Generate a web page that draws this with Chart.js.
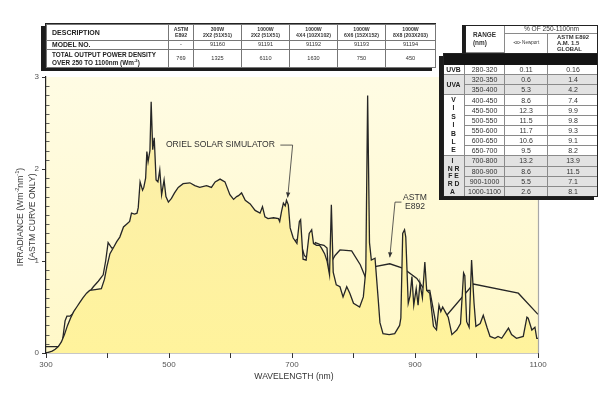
<!DOCTYPE html>
<html><head><meta charset="utf-8">
<script src="https://cdn.jsdelivr.net/npm/chart.js@4.4.0/dist/chart.umd.min.js"></script>
<style>
html,body{margin:0;padding:0;background:#fff;}
#wrap{position:relative;width:600px;height:394px;overflow:hidden;font-family:"Liberation Sans",Arial,Helvetica,sans-serif;color:#222;}
#c{position:absolute;left:0;top:0;}
.box{position:absolute;background:#fff;box-shadow:-4px 3px 0 #1c1c1c;}
table{border-collapse:collapse;table-layout:fixed;width:100%;height:100%;}
td{padding:0;text-align:center;vertical-align:middle;line-height:1.05;border:0.6px solid #777;overflow:hidden;white-space:nowrap;}
#t1{left:45px;top:23px;width:389px;height:43px;border:1px solid #222;}
#t1 td.l{text-align:left;padding-left:5px;font-weight:bold;}
#t1 .h{font-size:5.2px;font-weight:bold;color:#333;}
#t1 .v{font-size:5.6px;color:#333;}
.cell{position:absolute;box-sizing:border-box;border-right:0.7px solid #8a8a8a;border-bottom:0.7px solid #8a8a8a;display:flex;align-items:center;justify-content:center;flex-direction:column;font-size:7px;color:#333;white-space:nowrap;line-height:1;overflow:visible;}
.frame{position:absolute;left:0;top:0;right:0;bottom:0;box-sizing:border-box;border:1px solid #222;pointer-events:none;}
.ttl{position:absolute;font-size:8.6px;color:#333;white-space:nowrap;}
sup{font-size:65%;line-height:0;vertical-align:super;}
</style></head><body>
<div id="wrap">
<canvas id="c" width="600" height="394"></canvas>

<div class="box" id="t1"><table>
<colgroup><col style="width:122px"><col style="width:25px"><col style="width:48px"><col style="width:48px"><col style="width:48px"><col style="width:48px"><col style="width:50px"></colgroup>
<tr style="height:16px"><td class="l" style="font-size:7px">DESCRIPTION</td><td class="h">ASTM<br>E892</td><td class="h">300W<br>2X2 (51X51)</td><td class="h">1000W<br>2X2 (51X51)</td><td class="h">1000W<br>4X4 (102X102)</td><td class="h">1000W<br>6X6 (152X152)</td><td class="h">1000W<br>8X8 (203X203)</td></tr>
<tr style="height:9px"><td class="l" style="font-size:6.8px">MODEL NO.</td><td class="v">-</td><td class="v">91160</td><td class="v">91191</td><td class="v">91192</td><td class="v">91193</td><td class="v">91194</td></tr>
<tr style="height:18px"><td class="l" style="font-size:6.4px;line-height:1.25">TOTAL OUTPUT POWER DENSITY<br>OVER 250 TO 1100nm (Wm<sup>-2</sup>)</td><td class="v">769</td><td class="v">1325</td><td class="v">6110</td><td class="v">1630</td><td class="v">750</td><td class="v">450</td></tr>
</table></div>

<div class="box" id="t2h" style="left:465px;top:25px;width:133px;height:28px;box-shadow:-3px 0 0 #1c1c1c;"></div>
<div class="box" id="t2" style="left:443px;top:53px;width:155px;height:144px;"></div>

<div class="ttl" style="left:20px;top:217px;transform:translate(-50%,-50%) rotate(-90deg);">IRRADIANCE (Wm<sup>-2</sup>nm<sup>-1</sup>)</div>
<div class="ttl" style="left:32px;top:217px;transform:translate(-50%,-50%) rotate(-90deg);">(ASTM CURVE ONLY)</div>
<div class="ttl" style="left:294px;top:376px;transform:translate(-50%,-50%);">WAVELENGTH (nm)</div>
</div>

<script>
// ---- data ----
const orielWl = [300,305,310,315,320,325,330,335,340,345,350,355,360,366,371,380,390,395,399,404,410,415,420,426,431,436,439,444,448,450,453,457,459,462,464,466,469,471,473.5,476,479,482,485,488,492,495,499,504,509,515,523,534,542,550,561,569,575,583,591,599,605,610,613,618,624,632,640,648,652,656,661,670,678,680,683,686,689,691,694,697,702,708,712,714,718,723,728,732,735,740,745,748,753,757,761,764,767,772,778,783,789,794,800,810,816,820,823,826,829,835,840,843,848,858,867,875,877,880,883,885,889,892,895,898,902,905,908,912,916,919,924,930,935,939,942,945,949,954,960,968,974,979,981,984,988,992,996,999,1006,1011,1017,1022,1030,1035,1041,1046,1052,1057,1065,1076,1082,1084,1090,1095,1098,1100];
const orielIrr = [0.00,0.01,0.02,0.04,0.07,0.12,0.20,0.30,0.38,0.45,0.50,0.55,0.60,0.65,0.68,0.69,0.70,0.80,0.94,1.08,1.15,1.21,1.26,1.37,1.40,1.43,1.52,1.51,1.52,1.58,1.86,1.77,1.80,1.90,2.19,2.08,2.20,2.73,2.21,2.34,1.88,1.86,1.99,1.72,1.88,1.70,1.64,1.68,1.74,1.80,1.84,1.85,1.82,1.80,1.82,1.80,1.86,1.89,1.86,1.72,1.67,1.70,1.71,1.74,1.66,1.62,1.55,1.52,1.59,1.48,1.46,1.47,1.46,1.43,1.54,1.63,1.60,1.66,1.61,1.36,1.25,1.19,1.43,1.45,1.02,1.01,1.30,1.34,1.19,1.17,1.17,1.14,1.08,1.00,0.85,1.61,0.88,0.74,0.72,0.61,0.72,0.65,0.54,0.50,0.61,0.90,2.80,1.20,1.01,1.03,0.60,0.33,0.21,0.20,0.21,0.30,0.38,1.30,1.34,1.26,0.54,0.62,0.83,0.52,0.70,0.52,0.76,0.60,0.99,0.68,0.65,0.29,0.25,0.52,0.45,0.50,0.45,0.39,0.20,0.25,0.32,0.87,0.84,0.34,0.28,1.01,0.54,0.29,0.32,0.41,0.28,0.18,0.16,0.18,0.16,0.21,0.27,0.20,0.16,0.18,0.39,0.38,0.25,0.28,0.16,0.16];
const astmWl = [300,320,326,331,334,339,344,352,360,368,377,385,393,397,401,407,415,423,431,440,447,453,461,469,477,488,496,507,518,529,550,569,591,605,610,632,650,670,680,691,700,705,712,716,720,725,730,738,745,752,757,760,762,765,770,778,797,811,819,822,835,859,881,903,916,924,935,995,1068,1100];
const astmIrr = [0.07,0.07,0.09,0.35,0.40,0.40,0.43,0.50,0.58,0.64,0.72,0.78,0.85,1.00,1.20,1.14,1.15,1.16,1.07,1.30,1.48,1.55,1.56,1.58,1.55,1.59,1.53,1.51,1.45,1.53,1.51,1.46,1.37,1.40,1.45,1.41,1.39,1.37,1.30,1.12,1.18,1.22,1.25,1.15,1.06,1.03,1.10,1.20,1.18,1.17,1.14,0.75,0.65,1.00,1.06,1.12,1.11,0.96,0.83,0.79,0.94,0.97,0.92,0.81,0.68,0.68,0.28,0.75,0.65,0.42];
const xTickLabels = [300,500,700,900,1100];
const yTickLabels = [0,1,2,3];
const seriesNames = ['ORIEL SOLAR SIMULATOR','ASTM E892'];

// side table
const bandRanges = ['280-320','320-350','350-400','400-450','450-500','500-550','550-600','600-650','650-700','700-800','800-900','900-1000','1000-1100'];
const newportPct = ['0.11','0.6','5.3','8.6','12.3','11.5','11.7','10.6','9.5','13.2','8.6','5.5','2.6'];
const astmPct    = ['0.16','1.4','4.2','7.4','9.9','9.8','9.3','9.1','8.2','13.9','11.5','7.1','8.1'];
const bandGroups = [
  {rows:1, gray:false, lines:['UVB']},
  {rows:2, gray:true,  lines:['UVA']},
  {rows:6, gray:false, lines:['V','I','S','I','B','L','E']},
  {rows:4, gray:true,  lines:['\u00a0I\u00a0\u00a0','N\u00a0R','F\u00a0E','R\u00a0D','\u00a0A\u00a0\u00a0']}
];

function cell(parent, x, y, w, h, html, style){
  const d=document.createElement('div'); d.className='cell';
  d.style.left=x+'px'; d.style.top=y+'px'; d.style.width=w+'px'; d.style.height=h+'px';
  if(style) d.style.cssText += style;
  d.innerHTML=html; parent.appendChild(d); return d;
}
(function buildSideTable(){
  const hd=document.getElementById('t2h');
  cell(hd,0,0,40,28,'<span style="line-height:1.25">RANGE<br>(nm)</span>','font-weight:bold;font-size:6.4px;');
  cell(hd,40,0,93,8.5,'<span style="position:relative;top:0.6px">% OF 250-1100nm</span>','font-size:6.6px;border-right:none;');
  cell(hd,40,8.5,43,19.5,'&#x22B2;&#x22B3; Newport','font-size:4.6px;border-bottom:none;');
  cell(hd,83,8.5,50,19.5,'<span style="line-height:1.05">ASTM E892<br>A.M. 1.5<br>GLOBAL</span>','font-size:5.9px;font-weight:bold;border:none;');
  const fr1=document.createElement('div'); fr1.className='frame'; fr1.style.borderBottom='none'; hd.appendChild(fr1);

  const t=document.getElementById('t2');
  const cols=[0,22,62,105,155], band=12, rh=(144-band)/bandRanges.length;
  cell(t,0,0,155,band,'','background:#141414;border:none;');
  let r=0;
  bandGroups.forEach(g=>{
    const bg = g.gray? 'background:#e2e2e2;':'';
    const lh = g.lines.length>1 ? (g.rows*rh-2)/g.lines.length : 7;
    cell(t,0,band+r*rh,22,g.rows*rh, g.lines.map(s=>'<div style="line-height:'+lh.toFixed(2)+'px">'+s+'</div>').join(''),
      bg+'font-weight:bold;color:#222;font-size:6.8px;');
    for(let k=0;k<g.rows;k++){
      const i=r+k, y=band+i*rh;
      cell(t,cols[1],y,cols[2]-cols[1],rh,bandRanges[i],bg);
      cell(t,cols[2],y,cols[3]-cols[2],rh,newportPct[i],bg);
      cell(t,cols[3],y,cols[4]-cols[3],rh,astmPct[i],bg+'border-right:none;');
    }
    r+=g.rows;
  });
  const fr=document.createElement('div'); fr.className='frame'; t.appendChild(fr);
})();

const toPts = (w,v)=>w.map((x,i)=>({x:x,y:v[i]}));

const decor = {
  id:'decor',
  beforeDraw(chart){
    const {ctx, chartArea:a} = chart;
    const g = ctx.createLinearGradient(0,a.top,0,a.bottom);
    g.addColorStop(0,'#fffce4'); g.addColorStop(1,'#fff8c8');
    ctx.save(); ctx.fillStyle=g; ctx.fillRect(a.left,a.top,a.right-a.left,a.bottom-a.top); ctx.restore();
  },
  afterDatasetsDraw(chart){
    const {ctx, chartArea:a, scales:{x,y}} = chart;
    ctx.save();
    ctx.strokeStyle='#a8a8a8'; ctx.lineWidth=1.2;
    ctx.beginPath(); ctx.moveTo(a.right+0.5,a.top); ctx.lineTo(a.right+0.5,a.bottom); ctx.stroke();
    ctx.strokeStyle='#333'; ctx.lineWidth=0.8;
    for(let i=1;i<30;i++){ if(i%10===0) continue; const py=Math.round(y.getPixelForValue(i/10))+0.5;
      ctx.beginPath(); ctx.moveTo(a.left,py); ctx.lineTo(a.left+3.5,py); ctx.stroke(); }
    const arrow=(x0,y0,x1,y1)=>{ ctx.beginPath(); ctx.moveTo(x0,y0); ctx.lineTo(x1,y1); ctx.stroke();
      const ang=Math.atan2(y1-y0,x1-x0), L=5, W=2.2;
      ctx.beginPath(); ctx.moveTo(x1,y1);
      ctx.lineTo(x1-L*Math.cos(ang)+W*Math.sin(ang), y1-L*Math.sin(ang)-W*Math.cos(ang));
      ctx.lineTo(x1-L*Math.cos(ang)-W*Math.sin(ang), y1-L*Math.sin(ang)+W*Math.cos(ang));
      ctx.closePath(); ctx.fill(); };
    ctx.fillStyle='#333'; ctx.strokeStyle='#333'; ctx.lineWidth=0.8;
    ctx.font='8.6px "Liberation Sans", Arial, sans-serif'; ctx.textBaseline='middle';
    ctx.textAlign='left';
    ctx.fillText(seriesNames[0], x.getPixelForValue(495), y.getPixelForValue(2.26));
    const ly=y.getPixelForValue(2.26);
    ctx.beginPath(); ctx.moveTo(x.getPixelForValue(681),ly); ctx.lineTo(x.getPixelForValue(701),ly); ctx.stroke();
    arrow(x.getPixelForValue(701),ly,x.getPixelForValue(693),y.getPixelForValue(1.69));
    ctx.textAlign='center';
    ctx.fillText('ASTM', x.getPixelForValue(900), y.getPixelForValue(1.69));
    ctx.fillText('E892', x.getPixelForValue(900), y.getPixelForValue(1.59));
    const ay=y.getPixelForValue(1.64);
    ctx.beginPath(); ctx.moveTo(x.getPixelForValue(878),ay); ctx.lineTo(x.getPixelForValue(867.5),ay); ctx.stroke();
    arrow(x.getPixelForValue(867.5),ay,x.getPixelForValue(859),y.getPixelForValue(1.04));
    ctx.restore();
  }
};

const isInt = v => Math.abs(v-Math.round(v))<1e-6;

new Chart(document.getElementById('c'), {
  type:'line',
  data:{datasets:[
    {label:seriesNames[0], data:toPts(orielWl,orielIrr), borderColor:'#262626', borderWidth:1.3, pointRadius:0, tension:0, fill:'origin',
      backgroundColor:(c)=>{const ch=c.chart, a=ch.chartArea; if(!a) return '#fcf1b0';
        const g=ch.ctx.createLinearGradient(0,a.top,0,a.bottom); g.addColorStop(0,'#fbeeae'); g.addColorStop(1,'#fff39c'); return g;}},
    {label:seriesNames[1], data:toPts(astmWl,astmIrr), borderColor:'#262626', borderWidth:1.3, pointRadius:0, tension:0, fill:false}
  ]},
  options:{
    responsive:false, animation:false, devicePixelRatio:1,
    layout:{padding:{left:0,right:62,top:77,bottom:0}},
    plugins:{legend:{display:false}, tooltip:{enabled:false}},
    scales:{
      x:{type:'linear', min:300, max:1100,
        afterBuildTicks:s=>{ const t=[]; for(let v=300; v<=1100; v+=100) t.push({value:v}); s.ticks=t; },
        ticks:{autoSkip:false, maxRotation:0, padding:2, color:'#555', font:{size:8,family:'"Liberation Sans", Arial, sans-serif'},
          callback:v=> xTickLabels.includes(v)? String(v):''},
        grid:{drawOnChartArea:false, tickLength:5, tickColor:'#333', tickWidth:1},
        border:{color:'#222', width:1.2},
        afterFit:s=>{s.height=41;}
      },
      y:{min:0, max:3,
        afterBuildTicks:s=>{ const t=[]; for(let i=0;i<=30;i++) t.push({value:i/10}); s.ticks=t; },
        ticks:{autoSkip:false, padding:3, color:'#555', font:{size:8,family:'"Liberation Sans", Arial, sans-serif'},
          callback:v=> (isInt(v) && yTickLabels.includes(Math.round(v)))? String(Math.round(v)):''},
        grid:{drawOnChartArea:false, tickLength:4, tickWidth:1, tickColor:(c)=> isInt(c.tick.value)?'#333':'rgba(0,0,0,0)'},
        border:{color:'#222', width:1.2},
        afterFit:s=>{s.width=46;}
      }
    }
  },
  plugins:[decor]
});
</script>
</body></html>
